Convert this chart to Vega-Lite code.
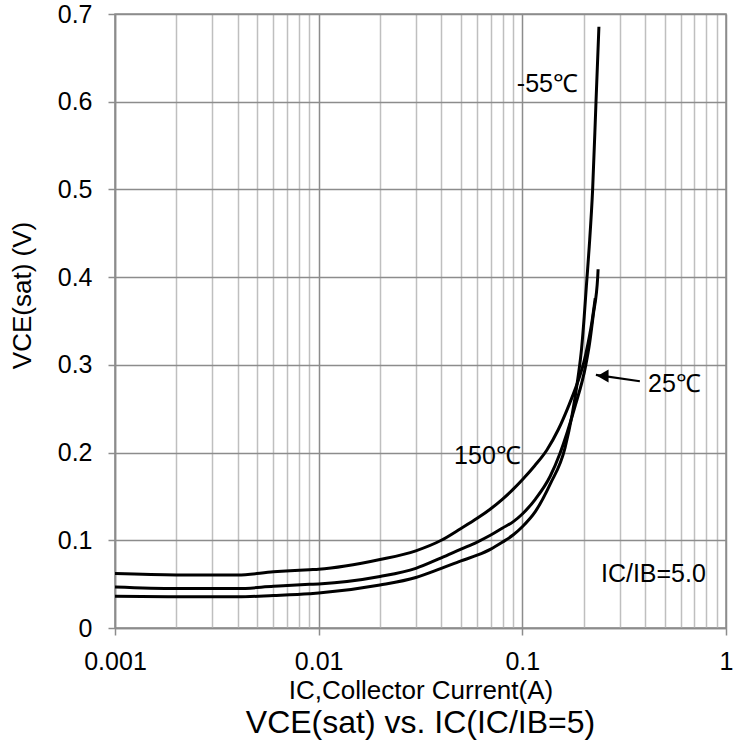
{
  "$schema": "https://vega.github.io/schema/vega-lite/v6.json",
  "width": 611,
  "height": 614,
  "autosize": {"type": "none"},
  "padding": {"left": 115, "top": 14, "right": 17, "bottom": 127},
  "background": "white",
  "config": {
    "font": "Liberation Sans",
    "view": {"stroke": "#8c8c8c", "strokeWidth": 1.5}
  },
  "title": {
    "text": "VCE(sat) vs. IC(IC/IB=5)",
    "orient": "bottom",
    "anchor": "middle",
    "fontSize": 32,
    "fontWeight": "normal",
    "font": "Liberation Sans",
    "color": "#000",
    "offset": 5
  },
  "datasets": {
    "curves": [
      {"T": "150", "IC": 0.001, "V": 0.062},
      {"T": "150", "IC": 0.002, "V": 0.0605},
      {"T": "150", "IC": 0.004, "V": 0.0603},
      {"T": "150", "IC": 0.006, "V": 0.064},
      {"T": "150", "IC": 0.009, "V": 0.0665},
      {"T": "150", "IC": 0.01, "V": 0.067},
      {"T": "150", "IC": 0.02, "V": 0.078},
      {"T": "150", "IC": 0.03, "V": 0.088},
      {"T": "150", "IC": 0.04, "V": 0.1},
      {"T": "150", "IC": 0.05, "V": 0.1135},
      {"T": "150", "IC": 0.06, "V": 0.125},
      {"T": "150", "IC": 0.07, "V": 0.136},
      {"T": "150", "IC": 0.08, "V": 0.147},
      {"T": "150", "IC": 0.09, "V": 0.158},
      {"T": "150", "IC": 0.1, "V": 0.169},
      {"T": "150", "IC": 0.115, "V": 0.185},
      {"T": "150", "IC": 0.132, "V": 0.203},
      {"T": "150", "IC": 0.15, "V": 0.226},
      {"T": "150", "IC": 0.17, "V": 0.255},
      {"T": "150", "IC": 0.19, "V": 0.285},
      {"T": "150", "IC": 0.2, "V": 0.302},
      {"T": "150", "IC": 0.21, "V": 0.324},
      {"T": "150", "IC": 0.22, "V": 0.35},
      {"T": "150", "IC": 0.228, "V": 0.376},
      {"T": "25", "IC": 0.001, "V": 0.0468},
      {"T": "25", "IC": 0.002, "V": 0.045},
      {"T": "25", "IC": 0.004, "V": 0.045},
      {"T": "25", "IC": 0.006, "V": 0.0475},
      {"T": "25", "IC": 0.009, "V": 0.0498},
      {"T": "25", "IC": 0.01, "V": 0.0503},
      {"T": "25", "IC": 0.02, "V": 0.0587},
      {"T": "25", "IC": 0.03, "V": 0.068},
      {"T": "25", "IC": 0.04, "V": 0.08},
      {"T": "25", "IC": 0.05, "V": 0.09},
      {"T": "25", "IC": 0.06, "V": 0.098},
      {"T": "25", "IC": 0.07, "V": 0.106},
      {"T": "25", "IC": 0.08, "V": 0.114},
      {"T": "25", "IC": 0.09, "V": 0.121},
      {"T": "25", "IC": 0.1, "V": 0.13},
      {"T": "25", "IC": 0.116, "V": 0.147},
      {"T": "25", "IC": 0.137, "V": 0.173},
      {"T": "25", "IC": 0.153, "V": 0.199},
      {"T": "25", "IC": 0.18, "V": 0.25},
      {"T": "25", "IC": 0.205, "V": 0.3},
      {"T": "25", "IC": 0.214, "V": 0.325},
      {"T": "25", "IC": 0.223, "V": 0.357},
      {"T": "25", "IC": 0.2346, "V": 0.401},
      {"T": "25", "IC": 0.2355, "V": 0.409},
      {"T": "-55", "IC": 0.001, "V": 0.0361},
      {"T": "-55", "IC": 0.002, "V": 0.0355},
      {"T": "-55", "IC": 0.004, "V": 0.0355},
      {"T": "-55", "IC": 0.006, "V": 0.037},
      {"T": "-55", "IC": 0.009, "V": 0.039},
      {"T": "-55", "IC": 0.01, "V": 0.0398},
      {"T": "-55", "IC": 0.02, "V": 0.049},
      {"T": "-55", "IC": 0.03, "V": 0.0576},
      {"T": "-55", "IC": 0.04, "V": 0.068},
      {"T": "-55", "IC": 0.05, "V": 0.0765},
      {"T": "-55", "IC": 0.06, "V": 0.083},
      {"T": "-55", "IC": 0.07, "V": 0.09},
      {"T": "-55", "IC": 0.08, "V": 0.098},
      {"T": "-55", "IC": 0.09, "V": 0.106},
      {"T": "-55", "IC": 0.1, "V": 0.1155},
      {"T": "-55", "IC": 0.116, "V": 0.133},
      {"T": "-55", "IC": 0.137, "V": 0.164},
      {"T": "-55", "IC": 0.1619, "V": 0.205},
      {"T": "-55", "IC": 0.1875, "V": 0.285},
      {"T": "-55", "IC": 0.1955, "V": 0.319},
      {"T": "-55", "IC": 0.2013, "V": 0.355},
      {"T": "-55", "IC": 0.2063, "V": 0.39},
      {"T": "-55", "IC": 0.2131, "V": 0.435},
      {"T": "-55", "IC": 0.2214, "V": 0.5},
      {"T": "-55", "IC": 0.23, "V": 0.6},
      {"T": "-55", "IC": 0.2377, "V": 0.6855}
    ],
    "labels": [
      {"IC": 0.1328, "V": 0.6206, "label": "-55℃"},
      {"IC": 0.0674, "V": 0.1966, "label": "150℃"},
      {"IC": 0.558, "V": 0.2787, "label": "25℃"},
      {"IC": 0.44, "V": 0.061, "label": "IC/IB=5.0"}
    ],
    "arrow": [
      {"IC": 0.3777, "V": 0.2813, "IC2": 0.2297, "V2": 0.2886}
    ],
    "head": [
      {"IC": 0.2487, "V": 0.2872}
    ]
  },
  "layer": [
    {
      "data": {"name": "curves"},
      "mark": {"type": "line", "color": "#000", "strokeWidth": 3, "interpolate": "monotone", "clip": true},
      "encoding": {
        "x": {
          "field": "IC",
          "type": "quantitative",
          "scale": {"type": "log", "domain": [0.001, 1], "nice": false},
          "axis": {
            "title": "IC,Collector Current(A)",
            "titleFontSize": 26,
            "titleFontWeight": "normal",
            "titleColor": "#000",
            "titleBaseline": "middle",
            "titleY": 62,
            "values": [0.001, 0.002, 0.003, 0.004, 0.005, 0.006, 0.007, 0.008, 0.009, 0.01, 0.02, 0.03, 0.04, 0.05, 0.06, 0.07, 0.08, 0.09, 0.1, 0.2, 0.3, 0.4, 0.5, 0.6, 0.7, 0.8, 0.9, 1],
            "format": "~g",
            "labelExpr": "abs(log(datum.value)/LN10 - round(log(datum.value)/LN10)) < 0.001 ? datum.label : ''",
            "labelFontSize": 25,
            "labelColor": "#000",
            "labelBaseline": "middle",
            "labelPadding": 26,
            "labelFlush": false,
            "labelOverlap": false,
            "tickSize": 7,
            "tickWidth": 1.5,
            "tickColor": {"condition": {"test": "abs(log(datum.value)/LN10 - round(log(datum.value)/LN10)) < 0.001", "value": "#8c8c8c"}, "value": "transparent"},
            "domainColor": "#8c8c8c",
            "domainWidth": 1.5,
            "grid": true,
            "gridWidth": 1.5,
            "gridColor": {"condition": {"test": "abs(log(datum.value)/LN10 - round(log(datum.value)/LN10)) < 0.001", "value": "#8c8c8c"}, "value": "#bfbfbf"}
          }
        },
        "y": {
          "field": "V",
          "type": "quantitative",
          "scale": {"domain": [0, 0.7], "nice": false},
          "axis": {
            "title": "VCE(sat) (V)",
            "titleFontSize": 26,
            "titleFontWeight": "normal",
            "titleColor": "#000",
            "titleAngle": 270,
            "titleBaseline": "middle",
            "titleX": -93,
            "titleY": 281,
            "values": [0, 0.1, 0.2, 0.3, 0.4, 0.5, 0.6, 0.7],
            "format": "~g",
            "labelFontSize": 25,
            "labelColor": "#000",
            "labelPadding": 16,
            "labelFlush": false,
            "labelOverlap": false,
            "tickSize": 7,
            "tickWidth": 1.5,
            "tickColor": "#8c8c8c",
            "domainColor": "#8c8c8c",
            "domainWidth": 1.5,
            "grid": true,
            "gridWidth": 1.5,
            "gridColor": "#8c8c8c"
          }
        },
        "detail": {"field": "T"}
      }
    },
    {
      "data": {"name": "labels"},
      "mark": {"type": "text", "fontSize": 25, "font": "Liberation Sans", "color": "#000", "align": "center", "baseline": "middle"},
      "encoding": {
        "x": {"field": "IC", "type": "quantitative"},
        "y": {"field": "V", "type": "quantitative"},
        "text": {"field": "label"}
      }
    },
    {
      "data": {"name": "arrow"},
      "mark": {"type": "rule", "color": "#000", "strokeWidth": 2.2},
      "encoding": {
        "x": {"field": "IC", "type": "quantitative"},
        "y": {"field": "V", "type": "quantitative"},
        "x2": {"field": "IC2"},
        "y2": {"field": "V2"}
      }
    },
    {
      "data": {"name": "head"},
      "mark": {"type": "point", "shape": "triangle-left", "filled": true, "color": "#000", "size": 170, "opacity": 1},
      "encoding": {
        "x": {"field": "IC", "type": "quantitative"},
        "y": {"field": "V", "type": "quantitative"}
      }
    }
  ]
}
